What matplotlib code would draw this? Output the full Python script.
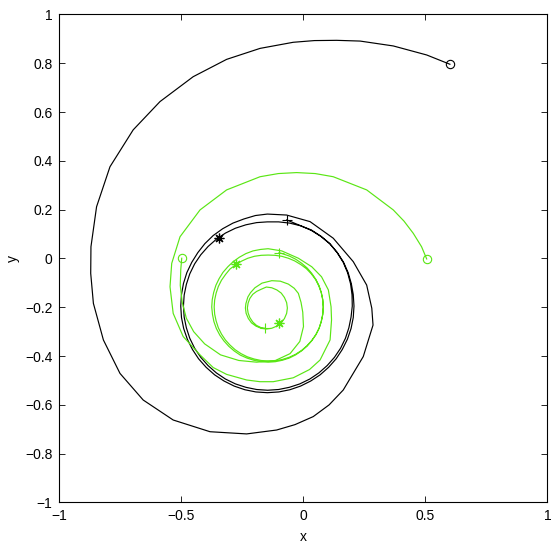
import matplotlib
matplotlib.use("Agg")
import matplotlib.pyplot as plt

plt.rcParams["font.family"] = ["Liberation Sans", "DejaVu Sans"]

GREEN = "#5ae614"

# black trajectory: outer spiral, then two laps near the big cycle
black_x = [0.600, 0.505, 0.368, 0.232, 0.136, 0.045, -0.042, -0.178, -0.315, -0.452, -0.588,
           -0.698, -0.793, -0.848, -0.871, -0.872, -0.861, -0.820, -0.752, -0.657, -0.534,
           -0.383, -0.233, -0.110, -0.035, 0.040, 0.105, 0.163, 0.245, 0.285, 0.280, 0.259,
           0.204, 0.122, 0.027, -0.069, -0.148,
           # lap 1
           -0.197, -0.244, -0.289, -0.331, -0.370, -0.404, -0.433, -0.458, -0.478, -0.492,
           -0.500, -0.503, -0.500, -0.491, -0.476, -0.455, -0.430, -0.399, -0.364, -0.326,
           -0.284, -0.240, -0.195, -0.148, -0.101, -0.056, -0.012, 0.030, 0.068, 0.103,
           0.134, 0.159, 0.180, 0.195, 0.204, 0.207, 0.204, 0.196, 0.183, 0.164,
           0.138, 0.108, 0.072, 0.032, -0.012, -0.057, -0.102, -0.148,
           # lap 2
           -0.192, -0.236, -0.279, -0.320, -0.357, -0.391, -0.421, -0.446, -0.466, -0.480,
           -0.489, -0.492, -0.489, -0.480, -0.466, -0.446, -0.421, -0.391, -0.357, -0.320,
           -0.279, -0.236, -0.192, -0.147, -0.102, -0.058, -0.015, 0.026, 0.063, 0.097,
           0.127, 0.152, 0.172, 0.186, 0.195, 0.200, 0.199, 0.193, 0.181, 0.163,
           0.138, 0.108, 0.072, 0.032, -0.011, -0.069]
black_y = [0.796, 0.834, 0.871, 0.891, 0.894, 0.893, 0.886, 0.861, 0.816, 0.745, 0.643,
           0.527, 0.376, 0.212, 0.048, -0.061, -0.184, -0.334, -0.471, -0.580, -0.662,
           -0.710, -0.719, -0.703, -0.681, -0.648, -0.600, -0.539, -0.402, -0.273, -0.204, -0.109,
           -0.013, 0.083, 0.151, 0.178, 0.182,
           0.176, 0.162, 0.145, 0.122, 0.094, 0.061, 0.024, -0.016, -0.058, -0.103,
           -0.148, -0.195, -0.242, -0.287, -0.331, -0.373, -0.411, -0.446, -0.477, -0.502,
           -0.523, -0.538, -0.547, -0.550, -0.547, -0.538, -0.523, -0.502, -0.477, -0.446,
           -0.411, -0.373, -0.331, -0.287, -0.242, -0.195, -0.148, -0.103, -0.058, -0.015,
           0.025, 0.061, 0.091, 0.117, 0.134, 0.145, 0.150, 0.150,
           0.147, 0.138, 0.124, 0.104, 0.079, 0.049, 0.015, -0.022, -0.063, -0.106,
           -0.150, -0.195, -0.240, -0.284, -0.327, -0.368, -0.405, -0.439, -0.469, -0.494,
           -0.514, -0.528, -0.537, -0.540, -0.537, -0.528, -0.514, -0.494, -0.469, -0.439,
           -0.405, -0.368, -0.327, -0.284, -0.240, -0.195, -0.149, -0.104, -0.059, -0.016,
           0.024, 0.060, 0.090, 0.115, 0.134, 0.158]
black_star = (-0.345, 0.085)

# green trajectory A, starting at (0.5, 0)
green_a_x = [0.505, 0.484, 0.450, 0.412, 0.368, 0.259, 0.122, 0.048, -0.028, -0.103, -0.178,
             -0.315, -0.424, -0.506, -0.540, -0.547, -0.534, -0.493, -0.424, -0.370, -0.315,
             -0.233, -0.178, -0.124, -0.042, 0.025, 0.068, 0.109, 0.115, 0.113, 0.102,
             0.074, 0.034, -0.021, -0.089, -0.145,
             # lap A1
             -0.176, -0.207, -0.236, -0.263, -0.288, -0.310, -0.330, -0.346, -0.359, -0.368,
             -0.374, -0.376, -0.373, -0.367, -0.357, -0.343, -0.326, -0.306, -0.284, -0.259,
             -0.232, -0.204, -0.175, -0.145, -0.115, -0.086, -0.058, -0.032, -0.007, 0.015,
             0.034, 0.051, 0.064, 0.073, 0.079, 0.081, 0.079, 0.073, 0.063, 0.050,
             0.032, 0.012, -0.011, -0.036, -0.062, -0.089, -0.117, -0.145,
             # lap A2
             -0.173, -0.201, -0.228, -0.254, -0.278, -0.301, -0.319, -0.336, -0.349, -0.358,
             -0.364, -0.366, -0.364, -0.358, -0.349, -0.336, -0.320, -0.301, -0.280, -0.256,
             -0.230, -0.202, -0.174, -0.145, -0.116, -0.087, -0.059, -0.033, -0.008, 0.014,
             0.034, 0.051, 0.064, 0.073, 0.079, 0.081, 0.079, 0.073, 0.064, 0.051,
             0.034, 0.015, -0.007, -0.032, -0.058, -0.100]
green_a_y = [-0.002, 0.048, 0.103, 0.153, 0.199, 0.281, 0.335, 0.348, 0.352, 0.348, 0.335,
             0.281, 0.199, 0.089, -0.020, -0.116, -0.225, -0.320, -0.395, -0.447, -0.475,
             -0.498, -0.505, -0.505, -0.489, -0.455, -0.416, -0.334, -0.252, -0.198, -0.129,
             -0.075, -0.034, 0.001, 0.031, 0.040,
             0.037, 0.031, 0.020, 0.005, -0.013, -0.034, -0.057, -0.083, -0.110, -0.139,
             -0.169, -0.199, -0.229, -0.259, -0.287, -0.314, -0.338, -0.360, -0.379, -0.396,
             -0.408, -0.417, -0.423, -0.425, -0.423, -0.417, -0.408, -0.395, -0.378, -0.359,
             -0.337, -0.312, -0.286, -0.258, -0.229, -0.199, -0.169, -0.140, -0.113, -0.087,
             -0.063, -0.042, -0.025, -0.010, 0.001, 0.009, 0.013, 0.014,
             0.013, 0.009, 0.001, -0.011, -0.026, -0.043, -0.065, -0.089, -0.115, -0.142,
             -0.170, -0.199, -0.228, -0.256, -0.284, -0.310, -0.334, -0.355, -0.374, -0.390,
             -0.403, -0.412, -0.418, -0.420, -0.419, -0.414, -0.405, -0.393, -0.377, -0.358,
             -0.336, -0.312, -0.286, -0.258, -0.229, -0.199, -0.169, -0.140, -0.112, -0.086,
             -0.061, -0.039, -0.020, -0.003, 0.010, 0.024]
green_a_star = (-0.275, -0.022)

# green trajectory B, starting at (-0.5, 0)
green_b_x = [-0.499, -0.503, -0.505, -0.497, -0.480, -0.450, -0.405, -0.340, -0.265, -0.192,
             -0.115, -0.055, -0.015, 0.000, -0.003, -0.010, -0.021, -0.038, -0.062, -0.095,
             -0.130, -0.170, -0.199, -0.217, -0.228, -0.236, -0.238,
             -0.235, -0.226, -0.213, -0.195, -0.174, -0.152, -0.130, -0.109, -0.091, -0.078,
             -0.069, -0.066, -0.069, -0.078, -0.091, -0.109, -0.130, -0.152,
             -0.173, -0.192, -0.208, -0.220, -0.227, -0.230, -0.227, -0.220, -0.208, -0.193,
             -0.175, -0.158]
green_b_y = [0.001, -0.047, -0.110, -0.180, -0.245, -0.300, -0.350, -0.395, -0.418, -0.425,
             -0.418, -0.390, -0.340, -0.279, -0.220, -0.180, -0.143, -0.122, -0.105, -0.093,
             -0.091, -0.101, -0.120, -0.140, -0.158, -0.185, -0.203,
             -0.225, -0.246, -0.264, -0.277, -0.286, -0.289, -0.286, -0.277, -0.264, -0.246,
             -0.225, -0.203, -0.181, -0.160, -0.142, -0.129, -0.120, -0.117,
             -0.126, -0.135, -0.147, -0.164, -0.183, -0.203, -0.223, -0.242, -0.260, -0.274,
             -0.283, -0.286]
green_b_star = (-0.100, -0.266)

X_TICKS = [-1, -0.5, 0, 0.5, 1]
X_LABELS = ["\u22121", "\u22120.5", "0", "0.5", "1"]
Y_TICKS = [-1, -0.8, -0.6, -0.4, -0.2, 0, 0.2, 0.4, 0.6, 0.8, 1]
Y_LABELS = ["\u22121", "\u22120.8", "\u22120.6", "\u22120.4", "\u22120.2", "0",
            "0.2", "0.4", "0.6", "0.8", "1"]

ASTERISK = (8, 2, 0)


def draw_traj(ax, xs, ys, star, color):
    ax.plot(xs, ys, color=color, lw=0.85)
    ax.plot(xs[0], ys[0], "o", mfc="none", mec=color, ms=6, mew=0.8)
    ax.plot(xs[-1], ys[-1], "+", color=color, ms=7, mew=0.8)
    ax.plot(star[0], star[1], marker=ASTERISK, color=color, ms=7, mew=0.9, ls="none")


fig = plt.figure(figsize=(5.59, 5.46), dpi=100)
ax = fig.add_axes([0.1064, 0.0797, 0.873, 0.8938])

draw_traj(ax, black_x, black_y, black_star, "black")
draw_traj(ax, green_a_x, green_a_y, green_a_star, GREEN)
draw_traj(ax, green_b_x, green_b_y, green_b_star, GREEN)

ax.set_xlim(-1, 1)
ax.set_ylim(-1, 1)
ax.set_xticks(X_TICKS)
ax.set_xticklabels(X_LABELS)
ax.set_yticks(Y_TICKS)
ax.set_yticklabels(Y_LABELS)
ax.tick_params(direction="in", length=4, width=0.6, top=True, right=True,
               labelsize=10, pad=5)
for s in ax.spines.values():
    s.set_linewidth(0.8)
ax.set_xlabel("x", fontsize=10, labelpad=5)
ax.set_ylabel("y", fontsize=10, labelpad=4)

fig.savefig("out.png", dpi=100)
